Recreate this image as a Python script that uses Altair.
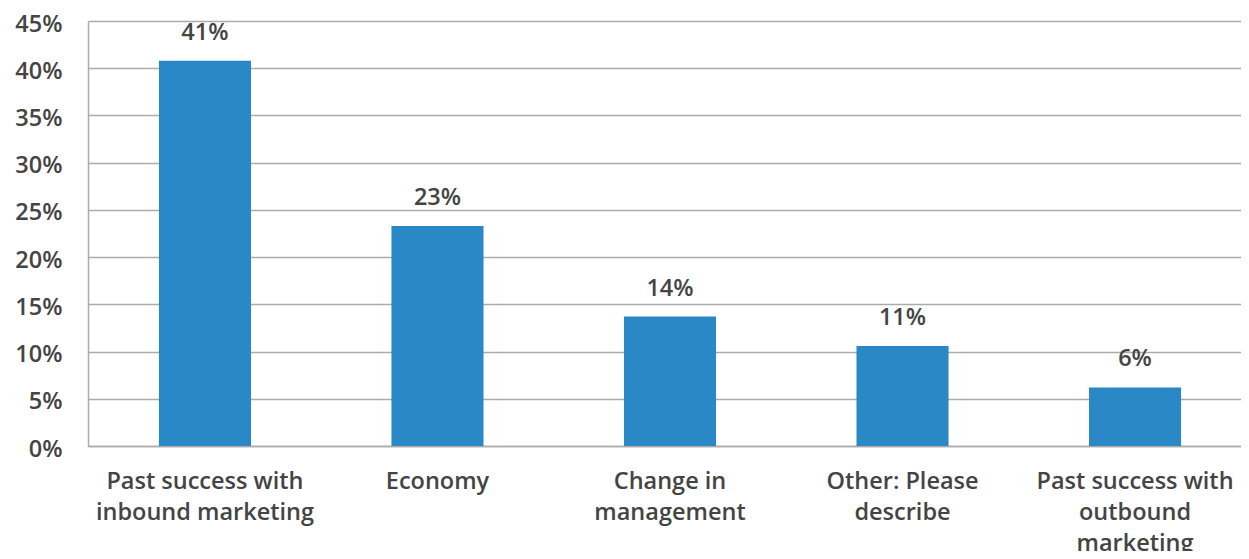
import altair as alt
import pandas as pd

categories = [
    "Past success with|inbound marketing",
    "Economy",
    "Change in|management",
    "Other: Please|describe",
    "Past success with|outbound|marketing",
]
values = [0.408, 0.233, 0.137, 0.106, 0.062]
labels = ["41%", "23%", "14%", "11%", "6%"]

df = pd.DataFrame({"cat": categories, "val": values, "lab": labels})

FONT = "Open Sans"
TXT = "#444444"
GRID = "#ababab"
FW = 600
FS = 23.5

x = alt.X(
    "cat:N",
    sort=categories,
    title=None,
    scale=alt.Scale(paddingInner=0.604, paddingOuter=0.305, range=[0, 1164]),
    axis=alt.Axis(
        labelAngle=0,
        labelExpr="split(datum.value, '|')",
        labelFont=FONT,
        labelFontSize=FS,
        labelFontWeight=FW,
        labelColor=TXT,
        labelLineHeight=31,
        labelPadding=23,
        labelBaseline="top",
        ticks=False,
        domainColor=GRID,
        domainWidth=1.5,
        labelLimit=400,
    ),
)

y = alt.Y(
    "val:Q",
    title=None,
    scale=alt.Scale(domain=[0, 0.45], nice=False),
    axis=alt.Axis(
        values=[i * 0.05 for i in range(10)],
        format=".0%",
        labelFont=FONT,
        labelFontSize=FS,
        labelFontWeight=FW,
        labelColor=TXT,
        labelPadding=26,
        labelOffset=3,
        ticks=False,
        grid=True,
        gridColor=GRID,
        gridWidth=1.5,
        domainColor=GRID,
        domainWidth=1.5,
    ),
)

bars = alt.Chart(df).mark_bar(color="#2a88c7").encode(x=x, y=y)
text = alt.Chart(df).mark_text(
    font=FONT, fontSize=FS, fontWeight=FW, color=TXT, dy=-28, baseline="middle"
).encode(x=alt.X("cat:N", sort=categories), y="val:Q", text="lab:N")

chart = (
    (bars + text)
    .properties(
        width=1153,
        height=425,
        autosize=alt.AutoSizeParams(type="none"),
        padding={"left": 80, "top": 13, "right": 0, "bottom": 105},
    )
    .configure_view(stroke=None)
    .configure(background="white")
)

chart.save("out.html", embed_options={"renderer": "svg", "actions": False})
